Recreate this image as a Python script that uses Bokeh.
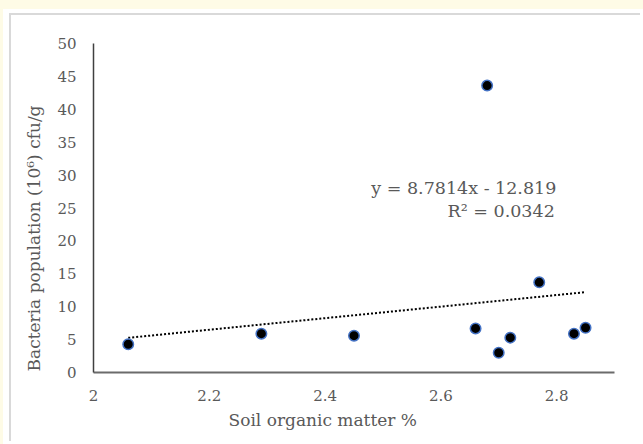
from bokeh.plotting import figure
from bokeh.models import Range1d, FixedTicker, CustomJSTickFormatter, Label, Title
from bokeh.embed import file_html
from bokeh.resources import INLINE

# Data
soil_organic_matter = [2.06, 2.29, 2.45, 2.66, 2.68, 2.70, 2.72, 2.77, 2.83, 2.85]
bacteria_population = [4.3, 5.9, 5.6, 6.7, 43.6, 3.0, 5.3, 13.7, 5.9, 6.8]
trend_slope = 8.7814
trend_intercept = -12.819
x_ticks = [2, 2.2, 2.4, 2.6, 2.8]
y_ticks = [0, 5, 10, 15, 20, 25, 30, 35, 40, 45, 50]
equation_text = "y = 8.7814x - 12.819"
r2_text = "R\u00b2 = 0.0342"
x_title = "Soil organic matter %"
y_title = "Bacteria population (10\u2076) cfu/g"

FONT = "DejaVu Serif"
GREY = "#595959"

p = figure(width=631, height=428, output_backend="svg", toolbar_location=None,
           x_range=Range1d(2, 2.9), y_range=Range1d(0, 50),
           min_border_left=80, min_border_right=28, min_border_top=28,
           min_border_bottom=71)
p.styles = {"border-top": "2px solid #d9d9d9", "border-left": "2px solid #d9d9d9",
            "margin-top": "13px", "margin-left": "9px"}
p.xgrid.visible = False
p.ygrid.visible = False
p.outline_line_color = None
p.background_fill_color = "white"
p.border_fill_color = "white"

for ax in (p.xaxis[0], p.yaxis[0]):
    ax.major_tick_in = 0
    ax.major_tick_out = 0
    ax.minor_tick_line_color = None
    ax.major_label_text_font = FONT
    ax.major_label_text_font_size = "15px"
    ax.major_label_text_color = GREY
    ax.major_label_standoff = 17

p.xaxis.ticker = FixedTicker(ticks=x_ticks)
p.xaxis.formatter = CustomJSTickFormatter(code="return (+tick.toFixed(1)).toString();")
p.yaxis.ticker = FixedTicker(ticks=y_ticks)
p.xaxis.axis_line_color = "#6b6b6b"
p.xaxis.axis_line_width = 2
p.yaxis.axis_line_color = "#404040"
p.yaxis.axis_line_width = 1.5

# trendline
x_min, x_max = min(soil_organic_matter), max(soil_organic_matter)
tx = [x_min, x_max]
ty = [trend_slope * v + trend_intercept for v in tx]
p.line(tx, ty, line_color="black", line_width=2, line_dash="2 2")

p.scatter(soil_organic_matter, bacteria_population, size=10.5, fill_color="black",
          line_color="#4472C4", line_width=1.5)

p.add_layout(Label(x=2.6397, y=28.1, text=equation_text, text_align="center",
                   text_baseline="middle", text_font=FONT, text_font_size="17.5px",
                   text_color=GREY))
p.add_layout(Label(x=2.7042, y=24.5, text=r2_text, text_align="center",
                   text_baseline="middle", text_font=FONT, text_font_size="17.5px",
                   text_color=GREY))

p.add_layout(Title(text=x_title, align="left", offset=135, standoff=8,
                   text_font=FONT, text_font_size="17px", text_font_style="normal",
                   text_color=GREY), "below")
p.add_layout(Title(text=y_title, align="left", offset=1, standoff=21,
                   text_font=FONT, text_font_size="17px", text_font_style="normal",
                   text_color=GREY), "left")

html = file_html(p, INLINE, title="chart")
html = html.replace("</head>", "<style>html{background:linear-gradient(90deg,#fefbe6 3px,transparent 3px),linear-gradient(#fefbe6 9px,#ffffff 9px);}</style></head>", 1)
open("out.html", "w").write(html)
